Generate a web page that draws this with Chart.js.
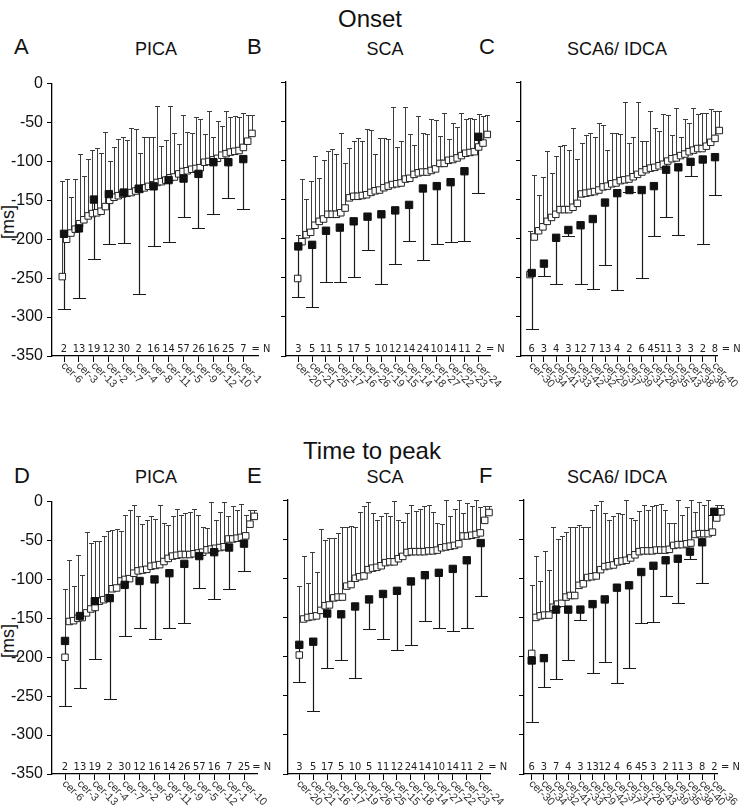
<!DOCTYPE html>
<html><head><meta charset="utf-8">
<script src="https://cdn.jsdelivr.net/npm/chart.js@4.4.1/dist/chart.umd.min.js"></script>
<style>
html,body{margin:0;padding:0;background:#fff;width:741px;height:810px;overflow:hidden;position:relative;font-family:'Liberation Sans',Arial,sans-serif;color:#111}
.t{position:absolute;white-space:nowrap;line-height:1}
.c{text-align:center;width:240px}
canvas{position:absolute}
</style></head><body>
<div class="t c" style="left:250px;top:7px;font-size:24px">Onset</div>
<div class="t" style="left:14px;top:36px;font-size:22px">A</div>
<div class="t c" style="left:36px;top:40px;font-size:18px">PICA</div>
<div class="t" style="left:247px;top:36px;font-size:22px">B</div>
<div class="t c" style="left:265px;top:40px;font-size:18px">SCA</div>
<div class="t" style="left:479px;top:36px;font-size:22px">C</div>
<div class="t c" style="left:497px;top:40px;font-size:18px">SCA6/ IDCA</div>
<div class="t c" style="left:252px;top:439px;font-size:24px">Time to peak</div>
<div class="t" style="left:14px;top:465px;font-size:22px">D</div>
<div class="t c" style="left:36px;top:468px;font-size:18px">PICA</div>
<div class="t" style="left:247px;top:465px;font-size:22px">E</div>
<div class="t c" style="left:265px;top:468px;font-size:18px">SCA</div>
<div class="t" style="left:479px;top:465px;font-size:22px">F</div>
<div class="t c" style="left:497px;top:468px;font-size:18px">SCA6/ IDCA</div>
<div class="t" style="left:-12px;top:213px;font-size:18px;width:40px;text-align:center;transform:rotate(-90deg)">[ms]</div>
<div class="t" style="left:-12px;top:632px;font-size:18px;width:40px;text-align:center;transform:rotate(-90deg)">[ms]</div>
<script>
// ---------- DATA ----------
const yTickValues = [0,-50,-100,-150,-200,-250,-300,-350];

// A  Onset PICA
const A_cats = ['cer-6','cer-3','cer-13','cer-2','cer-7','cer-4','cer-8','cer-11','cer-5','cer-9','cer-12','cer-10','cer-1'];
const A_N = [2,13,19,12,30,2,16,14,57,26,16,25,7];
const A_mean = [-193,-186,-149,-142,-140,-135,-132,-124,-122,-116,-101,-101,-97];
const A_lower = [-289,-275,-225,-206,-205,-270,-209,-203,-171,-186,-167,-147,-161];
const A_open = [-248,-200,-192,-187,-180,-175,-170,-167,-166,-164,-158,-150,-146,-144,-142,-141,-140,-138,-136,-134,-132,-130,-127,-126,-124,-121,-120,-116,-113,-112,-110,-109,-108,-101,-100,-98,-96,-92,-90,-88,-87,-86,-82,-74,-64];
const A_openUpper = [-125,-122,-146,-123,-90,-119,-97,-85,-83,-89,-62,-100,-81,-71,-68,-72,-57,-58,-89,-68,-68,-69,-29,-80,-73,-29,-64,-77,-40,-62,-64,-43,-45,-65,-35,-69,-48,-54,-35,-43,-42,-43,-38,-40,-40];

// B  Onset SCA
const B_cats = ['cer-20','cer-21','cer-25','cer-17','cer-16','cer-26','cer-19','cer-15','cer-14','cer-18','cer-27','cer-22','cer-23','cer-24'];
const B_N = [3,5,11,5,17,5,10,12,14,24,10,14,11,2];
const B_mean = [-210,-208,-190,-186,-178,-172,-169,-164,-157,-136,-133,-128,-114,-70];
const B_lower = [-275,-288,-255,-256,-249,-215,-258,-233,-203,-227,-207,-204,-203,-142];
const B_open = [-251,-204,-195,-192,-183,-178,-175,-169,-169,-169,-167,-161,-148,-146,-146,-145,-144,-141,-139,-138,-135,-133,-131,-130,-129,-124,-123,-118,-116,-115,-115,-113,-111,-104,-104,-100,-99,-97,-94,-91,-90,-89,-83,-78,-67];
const B_openUpper = [-195,-124,-149,-126,-94,-122,-100,-88,-86,-92,-65,-104,-84,-75,-72,-75,-60,-61,-92,-72,-72,-73,-32,-83,-76,-32,-67,-80,-43,-65,-67,-47,-48,-69,-39,-73,-52,-58,-39,-47,-46,-47,-41,-44,-42];

// C  Onset SCA6/IDCA
const C_cats = ['cer-30','cer-34','cer-41','cer-33','cer-42','cer-32','cer-29','cer-37','cer-39','cer-31','cer-28','cer-35','cer-43','cer-38','cer-36','cer-40'];
const C_N = [6,3,4,3,12,7,13,4,2,6,45,11,3,3,2,8];
const C_mean = [-244,-232,-199,-189,-183,-175,-154,-142,-138,-138,-133,-112,-109,-102,-99,-96];
const C_lower = [-315,-248,-258,-197,-258,-265,-234,-266,-141,-250,-197,-173,-196,-120,-207,-144];
const C_open = [-246,-198,-190,-185,-178,-173,-169,-163,-163,-163,-160,-155,-143,-142,-141,-140,-138,-134,-133,-130,-129,-126,-125,-124,-121,-118,-115,-112,-110,-109,-107,-105,-101,-98,-97,-94,-92,-89,-87,-85,-85,-82,-77,-72,-62];
const C_openUpper = [-190,-119,-144,-121,-88,-116,-95,-82,-80,-87,-59,-98,-78,-68,-65,-70,-53,-55,-87,-65,-65,-67,-26,-78,-70,-26,-75,-75,-37,-59,-62,-41,-42,-68,-33,-70,-47,-52,-33,-41,-40,-40,-35,-37,-37];

// D  Time to peak PICA
const D_cats = ['cer-6','cer-3','cer-13','cer-4','cer-7','cer-2','cer-8','cer-11','cer-9','cer-5','cer-12','cer-1','cer-10'];
const D_N = [2,13,19,2,30,12,16,14,26,57,16,7,25];
const D_mean = [-179,-147,-128,-124,-107,-102,-100,-92,-80,-70,-65,-59,-54];
const D_lower = [-262,-240,-202,-253,-173,-163,-176,-163,-156,-111,-125,-112,-89];
const D_open = [-200,-154,-153,-150,-149,-143,-138,-136,-128,-126,-124,-112,-111,-102,-100,-99,-92,-89,-88,-87,-83,-82,-81,-77,-73,-70,-69,-68,-68,-68,-67,-66,-65,-62,-61,-60,-59,-58,-48,-48,-47,-46,-44,-29,-19];
const D_openUpper = [-112,-75,-108,-69,-94,-39,-53,-50,-50,-44,-38,-37,-35,-38,-17,-11,-5,-18,-29,-23,-19,-22,-4,-28,-30,-18,-9,-17,-15,-13,-9,-17,-33,-34,-1,-23,-14,-1,-18,-6,-11,-3,-17,-11,-11];

// E  Time to peak SCA
const E_cats = ['cer-20','cer-21','cer-16','cer-17','cer-19','cer-26','cer-25','cer-15','cer-18','cer-14','cer-27','cer-22','cer-23','cer-24'];
const E_N = [3,5,17,5,10,5,11,12,24,14,10,14,11,2];
const E_mean = [-185,-181,-145,-146,-136,-127,-120,-116,-104,-96,-93,-88,-77,-55];
const E_lower = [-233,-270,-214,-204,-227,-165,-177,-192,-185,-154,-164,-167,-164,-123];
const E_open = [-198,-152,-150,-149,-148,-141,-135,-134,-125,-124,-124,-110,-108,-100,-98,-97,-89,-87,-86,-84,-80,-79,-79,-75,-72,-67,-66,-66,-66,-66,-65,-65,-64,-61,-60,-59,-58,-56,-46,-46,-45,-44,-42,-26,-16];
const E_openUpper = [-110,-72,-106,-66,-92,-37,-51,-48,-48,-42,-35,-34,-33,-35,-15,-8,-2,-16,-26,-21,-17,-20,-1,-25,-28,-16,-6,-14,-11,-8,-6,-15,-30,-31,0,-21,-11,0,-16,-4,-8,0,-9,-8,-8];

// F  Time to peak SCA6/IDCA
const F_cats = ['cer-30','cer-34','cer-32','cer-41','cer-33','cer-29','cer-42','cer-37','cer-31','cer-28','cer-43','cer-39','cer-35','cer-38','cer-40','cer-36'];
const F_N = [6,3,7,4,3,13,12,4,6,45,3,2,11,3,8,2];
const F_mean = [-205,-202,-140,-140,-140,-133,-127,-112,-109,-92,-84,-77,-75,-66,-54,-15];
const F_lower = [-284,-239,-229,-204,-153,-221,-207,-234,-214,-157,-156,-123,-131,-75,-106,-19];
const F_open = [-196,-150,-148,-147,-147,-137,-133,-132,-124,-122,-122,-109,-107,-99,-98,-97,-89,-85,-84,-83,-79,-78,-77,-74,-70,-66,-65,-65,-65,-64,-64,-64,-63,-58,-57,-57,-56,-55,-44,-43,-43,-43,-41,-23,-15];
const F_openUpper = [-109,-71,-104,-65,-90,-35,-50,-46,-41,-34,-35,-32,-34,-34,-13,-6,-1,-16,-25,-20,-16,-18,0,-23,-26,-14,-6,-13,-8,-6,-5,-13,-29,-30,0,-19,-9,0,-15,-2,-6,0,-12,-6,-6];

// ---------- LAYOUT (pixels) ----------
const LAYOUT = {
  A:{axisL:52, axisR:258, top:82, bottom:356, cat0:64,   catN:243.3, open0:62.3, open1:252,   showY:true},
  B:{axisL:286,axisR:490, top:82, bottom:356, cat0:298.3,catN:478.3, open0:297.7,open1:487.3, showY:false},
  C:{axisL:521,axisR:717, top:82, bottom:356, cat0:531.7,catN:715,   open0:530,  open1:719.3, showY:false},
  D:{axisL:52, axisR:257, top:500,bottom:774, cat0:65,   catN:244,   open0:65,   open1:254.3, showY:true},
  E:{axisL:288,axisR:490, top:500,bottom:774, cat0:299.3,catN:480.7, open0:299.3,open1:489,   showY:false},
  F:{axisL:524,axisR:717, top:500,bottom:774, cat0:531.7,catN:714.3, open0:531.7,open1:721,   showY:false}
};

function makePanel(L, P){
  const WY = 48, PT = 12, PR = 26;
  const HX = L.bottom > 500 ? 36 : 58;
  const n = P.cats.length, m = P.open.length;
  const step = (L.catN - L.cat0) / (n - 1);
  const ostep = (L.open1 - L.open0) / (m - 1);
  const w = WY + (L.axisR - L.axisL) + PR;
  const h = PT + (L.bottom - L.top) + HX;
  const cv = document.createElement('canvas');
  cv.width = w; cv.height = h;
  cv.style.left = (L.axisL - WY) + 'px';
  cv.style.top = (L.top - PT) + 'px';
  cv.style.width = w + 'px'; cv.style.height = h + 'px';
  document.body.appendChild(cv);

  const deco = {
    id: 'deco',
    beforeDatasetsDraw(chart){
      const ctx = chart.ctx, xs = chart.scales.x, x2 = chart.scales.x2, ys = chart.scales.y;
      ctx.save();
      ctx.strokeStyle = '#3c3c3c'; ctx.lineWidth = 1;
      ctx.beginPath();
      P.open.forEach((v, i) => {
        const px = Math.round(x2.getPixelForValue(i)) + 0.5;
        const y0 = ys.getPixelForValue(v), y1 = Math.round(ys.getPixelForValue(P.openUpper[i])) + 0.5;
        ctx.moveTo(px, y0); ctx.lineTo(px, y1);
        ctx.moveTo(px - 2.5, y1); ctx.lineTo(px + 2.5, y1);
      });
      ctx.stroke();
      ctx.strokeStyle = '#1a1a1a'; ctx.lineWidth = 1.2;
      ctx.beginPath();
      P.mean.forEach((v, i) => {
        const px = Math.round(xs.getPixelForValue(i)) + 0.5;
        const y0 = ys.getPixelForValue(v), y1 = Math.round(ys.getPixelForValue(P.lower[i])) + 0.5;
        ctx.moveTo(px, y0); ctx.lineTo(px, y1);
        ctx.moveTo(px - 6.5, y1); ctx.lineTo(px + 6.5, y1);
      });
      ctx.stroke();
      ctx.restore();
    },
    afterDraw(chart){
      const ctx = chart.ctx, xs = chart.scales.x, bottom = chart.chartArea.bottom;
      ctx.save();
      ctx.fillStyle = '#222';
      ctx.font = "11px 'Liberation Sans Narrow','DejaVu Sans Condensed',sans-serif";
      ctx.textAlign = 'center'; ctx.textBaseline = 'alphabetic';
      P.N.forEach((v, i) => ctx.fillText(String(v), xs.getPixelForValue(i), bottom - 4));
      ctx.textAlign = 'left';
      ctx.fillText('= N', xs.getPixelForValue(n - 1 + 0.55), bottom - 4);
      ctx.font = "11px 'Liberation Sans',Arial,sans-serif";
      ctx.fillStyle = '#333';
      ctx.textBaseline = 'middle';
      P.cats.forEach((c, i) => {
        ctx.save();
        ctx.translate(xs.getPixelForValue(i) - 1, bottom + 8);
        ctx.rotate(Math.PI / 4);
        ctx.fillText(c, 0, 0);
        ctx.restore();
      });
      ctx.restore();
    }
  };

  new Chart(cv, {
    type: 'scatter',
    data: {
      datasets: [
        { label: 'mean', data: P.mean.map((v, i) => ({x: i, y: v})), xAxisID: 'x', yAxisID: 'y',
          pointStyle: 'rect', pointRadius: 5.2, backgroundColor: '#111', borderColor: '#111', borderWidth: 1, order: 0, clip: false },
        { label: 'cells', data: P.open.map((v, i) => ({x: i, y: v})), xAxisID: 'x2', yAxisID: 'y',
          pointStyle: 'rect', pointRadius: 4.6, backgroundColor: '#fff', borderColor: '#222', borderWidth: 1, order: 1, clip: false }
      ]
    },
    options: {
      responsive: false, animation: false, devicePixelRatio: 1, events: [],
      layout: { padding: { top: PT, right: PR, left: 0, bottom: 0 } },
      plugins: { legend: { display: false }, tooltip: { enabled: false } },
      scales: {
        x: {
          type: 'linear', position: 'bottom',
          min: (L.axisL - L.cat0) / step, max: (L.axisR - L.cat0) / step,
          ticks: { display: false, stepSize: 1 },
          afterBuildTicks: s => { s.ticks = P.cats.map((c, i) => ({value: i})); },
          afterFit: s => { s.height = HX; },
          grid: { display: true, drawOnChartArea: false, drawTicks: true, tickLength: 6, color: '#000', lineWidth: 1 },
          border: { display: true, color: '#000', width: 1.3 }
        },
        x2: {
          type: 'linear', display: false,
          min: (L.axisL - L.open0) / ostep, max: (L.axisR - L.open0) / ostep
        },
        y: {
          type: 'linear', position: 'left', min: -350, max: 0,
          ticks: { display: L.showY, stepSize: 50, padding: 4, color: '#111',
                   font: { family: "'Liberation Sans',Arial,sans-serif", size: 16 } },
          afterBuildTicks: s => { s.ticks = yTickValues.map(v => ({value: v})); },
          afterFit: s => { s.width = WY; },
          grid: { display: true, drawOnChartArea: false, drawTicks: true, tickLength: 5, color: '#000', lineWidth: 1 },
          border: { display: true, color: '#000', width: 1.3 }
        }
      }
    },
    plugins: [deco]
  });
}

makePanel(LAYOUT.A, {cats:A_cats, N:A_N, mean:A_mean, lower:A_lower, open:A_open, openUpper:A_openUpper});
makePanel(LAYOUT.B, {cats:B_cats, N:B_N, mean:B_mean, lower:B_lower, open:B_open, openUpper:B_openUpper});
makePanel(LAYOUT.C, {cats:C_cats, N:C_N, mean:C_mean, lower:C_lower, open:C_open, openUpper:C_openUpper});
makePanel(LAYOUT.D, {cats:D_cats, N:D_N, mean:D_mean, lower:D_lower, open:D_open, openUpper:D_openUpper});
makePanel(LAYOUT.E, {cats:E_cats, N:E_N, mean:E_mean, lower:E_lower, open:E_open, openUpper:E_openUpper});
makePanel(LAYOUT.F, {cats:F_cats, N:F_N, mean:F_mean, lower:F_lower, open:F_open, openUpper:F_openUpper});
</script>
</body></html>
